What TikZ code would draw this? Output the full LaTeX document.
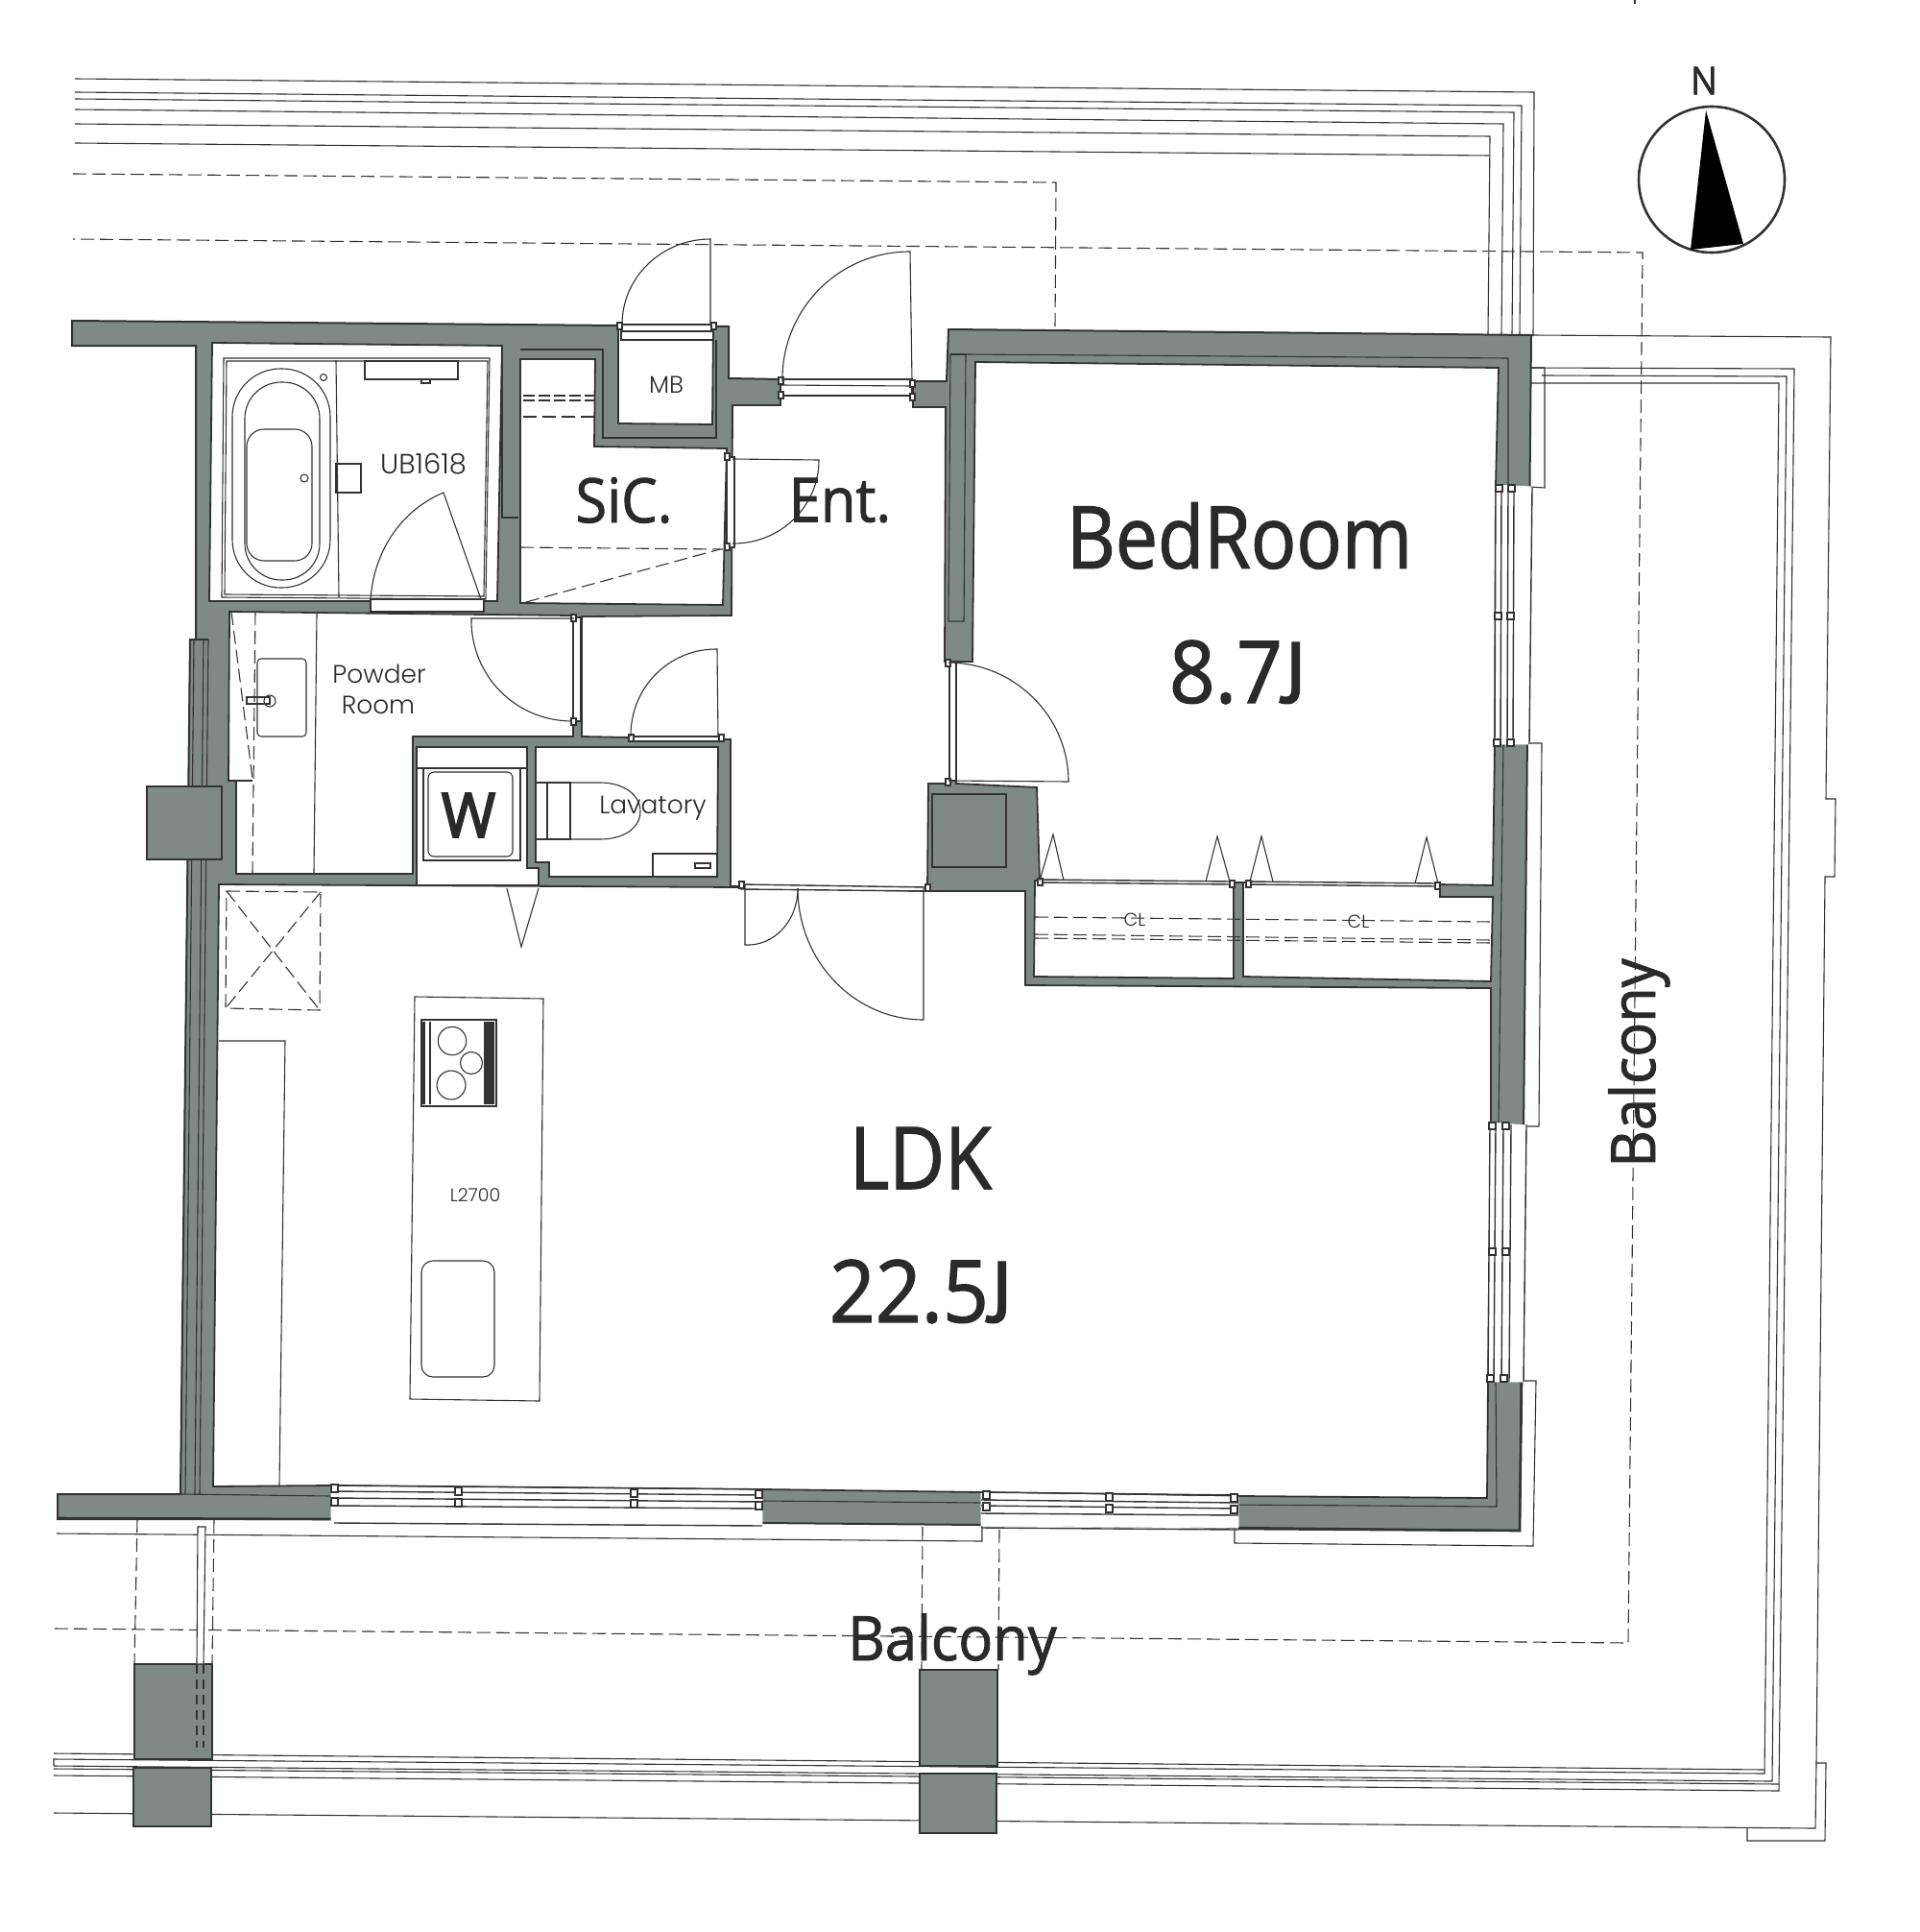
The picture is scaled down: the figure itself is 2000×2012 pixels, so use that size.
\documentclass[tikz,border=0pt]{standalone}
\usepackage{fontspec}
\setmainfont{Open Sans}
\newfontfamily\roomfont[FakeStretch=0.93,FakeBold=1.4]{Open Sans}
\newfontfamily\boldroomfont[FakeStretch=0.95,FakeBold=3]{Open Sans}
\newfontfamily\jayfont[FakeBold=1.4]{PT Sans}
\newfontfamily\planfont[UprightFont={* Light}]{Poppins}
\usetikzlibrary{calc}
\definecolor{wallgray}{HTML}{7F8A86}
\definecolor{linegray}{HTML}{333333}
\definecolor{inkgray}{HTML}{2A2A2A}
\tikzset{
  wall/.style={fill=wallgray,draw=linegray,line width=1pt,line join=miter},
  room/.style={fill=white,draw=linegray,line width=0.9pt},
  thinline/.style={draw=linegray,line width=0.55pt},
  dashline/.style={draw=linegray,line width=0.55pt,dash pattern=on 7pt off 3pt},
  shortdash/.style={draw=linegray,line width=0.55pt,dash pattern=on 6pt off 2pt},
  strip/.style={fill=white,draw=linegray,line width=0.7pt},
  bigtext/.style={text=inkgray,font=\roomfont\fontsize{45}{45}\selectfont},
  midtext/.style={text=inkgray,font=\roomfont\fontsize{32}{32}\selectfont},
  smalltext/.style={text=inkgray,font=\planfont\fontsize{13.2}{13.2}\selectfont},
  tinytext/.style={text=inkgray,font=\planfont\fontsize{9.5}{9.5}\selectfont},
}
\newcommand{\swing}[3]{\draw[thinline] (#1) -- (#2) .. controls ($(#2)+0.5523*(#3)-0.5523*(#1)$) and ($(#3)+0.5523*(#2)-0.5523*(#1)$) .. (#3);}
\begin{document}
\begin{tikzpicture}[x=0.5pt,y=-0.5pt]
        \useasboundingbox (0,0) rectangle (2000,2012);
        \fill[white] (0,0) rectangle (2000,2012);

        % parapet lines, north side
        \draw[thinline] (78,82) -- (1598,96) -- (1597,350);
        \draw[thinline] (78,96) -- (1585,110) -- (1583,348);
        \draw[thinline] (78,103) -- (1577,117) -- (1575,348);
        \draw[thinline] (78,114) -- (1566,129) -- (1564,348);
        \draw[thinline] (78,129) -- (1552,142) -- (1550,348);
        \draw[thinline] (78,149) -- (1552,162);
        \draw[dashline] (76,181) -- (1100,190) -- (1099,342);
        \draw[dashline] (57,1696) -- (1696,1711) -- (1711,263) -- (76,249);
        \draw[thinline] (1703,0) -- (1703,4);

        % balcony rails
        \draw[thinline] (1595,349) -- (1907,351) -- (1902,832) -- (1912,832) -- (1911,913) -- (1901,913) -- (1892,1836) -- (1902,1836) -- (1901,1917) -- (1820,1917) -- (1820,1903);
        \draw[thinline] (56,1888) -- (1891,1904) -- (1892,1836);
        \draw[thinline] (1595,383) -- (1869,384) -- (1853,1865) -- (56,1849);
        \draw[thinline] (56,1842) -- (1853,1858);
        \draw[thinline] (1606,391) -- (1861,392) -- (1846,1855) -- (56,1839);
        \draw[thinline] (1595,399) -- (1853,399) -- (1838,1847) -- (56,1832) -- (56,1839);
        \draw[thinline] (56,1826) -- (1838,1843);
        \draw[thinline] (59,1597) -- (1023,1605) -- (1023,1588);
        \draw[thinline] (1286,1591) -- (1286,1607) -- (1597,1610) -- (1600,1438) -- (1583,1438);
        \draw[thinline] (1590,774) -- (1606,774) -- (1603,1173) -- (1588,1173);
        \draw[thinline] (1595,383) -- (1609,383) -- (1609,508) -- (1593,507);

        % columns on the balcony
        \draw[wall] (140,1733) rectangle (221,1832);
        \draw[wall] (139,1841) rectangle (220,1902);
        \draw[wall] (958,1739) rectangle (1039,1839);
        \draw[wall] (958,1847) rectangle (1038,1909);
        \draw[dashline] (143,1582) -- (140,1733);
        \draw[dashline] (223,1583) -- (221,1733);
        \draw[dashline] (961,1590) -- (960,1739);
        \draw[dashline] (1041,1593) -- (1040,1739);
        \filldraw[fill=white,draw=linegray,line width=0.55pt] (206,1590) -- (214,1590) -- (212,1733) -- (205,1733) -- cycle;
        \draw[dashline,dash pattern=on 5pt off 3pt] (205,1733) -- (205,1820);
        \draw[dashline,dash pattern=on 5pt off 3pt] (212,1733) -- (212,1820);

        % the walls, rooms are cut out of it
        \filldraw[wall] (75,334) -- (759,340) -- (759,394) -- (813,395) -- (951,397) -- (986,397) -- (988,343) -- (1595,349) -- (1583,1594) -- (1022,1588) -- (794,1586) -- (345,1582) -- (60,1582) -- (60,1556) -- (188,1556) -- (198,666) -- (204,666) -- (204,360) -- (75,360) -- cycle;

        \filldraw[room] (221,357) -- (523,360) -- (518,626) -- (218,626) -- cycle;
        \filldraw[room] (542,374) -- (620,374) -- (619,465) -- (757,467) -- (753,630) -- (542,628) -- cycle;
        \filldraw[room] (644,342) -- (743,342) -- (742,442) -- (644,441) -- cycle;
        \filldraw[room] (239,637) -- (597,641) -- (597,767) -- (430,767) -- (430,910) -- (246,910) -- (246,813) -- (238,813) -- cycle;
        \filldraw[room] (434,778) -- (549,778) -- (549,904) -- (561,904) -- (561,922) -- (434,922) -- cycle;
        \filldraw[room] (558,778) -- (748,778) -- (747,913) -- (572,913) -- (572,898) -- (558,898) -- cycle;
        \filldraw[room] (763,422) -- (813,422) -- (813,395) -- (951,397) -- (951,424) -- (985,424) -- (984,689) -- (989,689) -- (989,816) -- (967,816) -- (966,928) -- (772,925) -- (772,923) -- (761,923) -- (761,770) -- (606,767) -- (606,642) -- (762,641) -- cycle;
        \filldraw[room] (1016,377) -- (1561,383) -- (1558,505) -- (1557,775) -- (1555,922) -- (1497,921) -- (1083,917) -- (1080,820) -- (996,816) -- (996,689) -- (1013,689) -- cycle;
        \filldraw[room] (1078,917) -- (1285,919) -- (1285,1019) -- (1077,1017) -- cycle;
        \filldraw[room] (1295,919) -- (1500,921) -- (1500,934) -- (1555,934) -- (1553,1022) -- (1295,1017) -- cycle;
        \filldraw[room] (228,921) -- (772,924) -- (966,928) -- (1068,928) -- (1068,1026) -- (1553,1029) -- (1553,1169) -- (1550,1439) -- (1549,1560) -- (1290,1558) -- (1022,1554) -- (794,1551) -- (345,1547) -- (222,1548) -- cycle;

        % lines inside the concrete
        \draw[thinline] (990,369) -- (988,647) -- (1004,647) -- (1006,369) -- (1571,373) -- (1571,505);
        \draw[thinline] (990,369) -- (1006,369);
        \draw[thinline] (1566,775) -- (1561,1169);
        \draw[thinline] (1558,1439) -- (1559,1569) -- (1287,1567);
        \draw[thinline] (198,666) -- (188,1556);
        \draw[thinline] (202,666) -- (193,1556);
        \draw[thinline] (212,666) -- (203,1556);
        \draw[thinline] (217,666) -- (208,1556);
        \draw[thinline] (204,666) -- (217,666);
        \draw[thinline] (188,1556) -- (345,1558);
        \draw[thinline] (794,1563) -- (1022,1565);
        \draw[thinline] (523,360) -- (523,539) -- (540,539);
        \draw[thinline] (542,364) -- (628,364) -- (628,456) -- (746,456) -- (746,354);
        \draw[thinline] (971,827) -- (1048,827) -- (1048,903) -- (971,903) -- cycle;
        \draw[linegray,line width=1.3pt] (60,1581) -- (345,1582);
        \draw[linegray,line width=1.3pt] (1290,1592) -- (1583,1594) -- (1585,1439);
        \filldraw[wall] (153,819) rectangle (231,895);

        % door strips
        \filldraw[strip] (647,338) rectangle (743,354);
        \draw[thinline] (647,345) -- (743,345);
        \filldraw[strip] (813,395) rectangle (950,412);
        \draw[thinline] (813,401) -- (950,402);
        \filldraw[strip] (757,476) rectangle (765,570);
        \filldraw[strip] (386,624) rectangle (504,637);
        \filldraw[strip] (597,643) rectangle (605,751);
        \filldraw[strip] (657,767) rectangle (751,772);
        \filldraw[strip] (989,689) rectangle (996,813);
        \filldraw[strip] (772,921) -- (966,924) -- (966,928) -- (772,926) -- cycle;
        \filldraw[strip] (1083,916) -- (1283,918) -- (1283,921) -- (1083,919) -- cycle;
        \filldraw[strip] (1300,918) -- (1497,920) -- (1497,923) -- (1300,921) -- cycle;
        % door jambs
        \foreach \xa/\ya in {643/336,741/336,811/393,811/408,948/396,948/410,755/472,755/566,595/640,595/748,655/765,749/765,985/687,985/811,770/918,964/921,1081/915,1281/917,1298/917,1495/919} {
            \filldraw[strip] (\xa,\ya) rectangle +(5,7);
        }

        % door swings
        \swing{740,338}{740,249}{648,338}
        \swing{950,397}{948,262}{815,397}
        \swing{763,478}{853,479}{763,566}
        \swing{598,644}{491,644}{596,751}
        \swing{748,768}{747,676}{657,767}
        \swing{988,813}{1113,814}{988,690}
        \swing{776,922}{776,984}{831,925}
        \swing{962,925}{962,1062}{831,925}
        \draw[thinline] (386,624) .. controls (390,570) and (421,530) .. (462,513) -- (501,624);
        \draw[thinline] (528,925) -- (543,986) -- (561,925);
        \draw[thinline] (1083,917) -- (1097,869) -- (1108,917);
        \draw[thinline] (1256,918) -- (1268,871) -- (1281,918);
        \draw[thinline] (1302,918) -- (1314,871) -- (1326,918);
        \draw[thinline] (1474,920) -- (1486,872) -- (1498,920);

        % windows, east side
        \filldraw[white] (1558,505) -- (1596,507) -- (1593,775) -- (1557,775) -- cycle;
        \filldraw[white] (1552,1169) -- (1590,1172) -- (1587,1439) -- (1550,1439) -- cycle;
        \foreach \xa/\xb in {1558/1557,1564/1563,1571/1570,1577/1576,1596/1593} {
            \draw[thinline,line width=0.7pt] (\xa,507) -- (\xb,775);
        }
        \foreach \xa/\xb in {1552/1550,1558/1556,1566/1564,1574/1572,1590/1587} {
            \draw[thinline,line width=0.7pt] (\xa,1171) -- (\xb,1439);
        }
        \foreach \xa/\ya in {1558/505,1571/505,1557/638,1570/638,1556/770,1570/770,1551/1169,1565/1169,1551/1300,1565/1300,1549/1432,1563/1432} {
            \filldraw[strip] (\xa,\ya) rectangle +(7,7);
        }
        % windows, south side
        \filldraw[white] (345,1548) -- (794,1552) -- (794,1588) -- (345,1586) -- cycle;
        \filldraw[white] (1022,1555) -- (1290,1559) -- (1290,1591) -- (1022,1589) -- cycle;
        \foreach \ya/\yb in {1547/1551,1553/1557,1560/1564,1568/1571,1586/1589} {
            \draw[thinline,line width=0.7pt] (348,\ya) -- (794,\yb);
        }
        \foreach \ya/\yb in {1554/1557,1562/1565,1568/1571,1576/1578,1591/1593} {
            \draw[thinline,line width=0.7pt] (1022,\ya) -- (1290,\yb);
        }
        \foreach \xa/\ya in {345/1546,345/1560,474/1549,474/1561,657/1551,657/1562,787/1552,787/1564,1024/1553,1024/1565,1152/1555,1152/1567,1282/1556,1282/1568} {
            \filldraw[strip] (\xa,\ya) rectangle +(7,8);
        }

        % bathroom
        \draw[thinline] (233,373) -- (510,373) -- (506,624) -- (231,622) -- cycle;
        \draw[thinline] (236,376) -- (508,376) -- (504,621) -- (234,619) -- cycle;
        \draw[thinline] (350,375) -- (353,622);
        \draw[thinline,rounded corners=25pt] (242,384) rectangle (344,612);
        \draw[thinline,rounded corners=19pt] (255,398) rectangle (333,604);
        \draw[thinline,rounded corners=9pt] (257,447) rectangle (325,584);
        \draw[thinline] (337,393) circle (3.5);
        \draw[thinline] (317,498) circle (4);
        \draw[thinline] (350,483) rectangle (376,513);
        \draw[thinline] (380,376) rectangle (477,395);
        \draw[thinline] (439,395) rectangle (448,399);

        % closet dashes
        \draw[shortdash] (545,412) -- (619,412);
        \draw[shortdash] (545,417) -- (619,417);
        \draw[dashline] (545,434) -- (619,434);
        \draw[dashline] (542,570) -- (753,572);
        \draw[dashline] (548,627) -- (750,572);
        \draw[dashline] (1078,955) -- (1555,960);
        \draw[dashline] (1078,973) -- (1555,979);
        \draw[dashline] (1078,977) -- (1555,982);

        % powder room
        \draw[thinline] (330,639) -- (327,909);
        \draw[dashline] (266,637) -- (263,910);
        \draw[dashline] (241,637) -- (263,811);
        \draw[thinline] (246,813) -- (263,813);
        \draw[thinline,rounded corners=2pt] (268,686) rectangle (319,767);
        \draw[thinline] (257,726) rectangle (281,733);
        \draw[thinline] (281,730) circle (6);

        % washer and lavatory
        \draw[thinline] (434,800) -- (549,800);
        \draw[thinline] (441,800) rectangle (542,896);
        \draw[thinline,rounded corners=3pt] (446,804) rectangle (534,892);
        \draw[thinline] (558,815) rectangle (594,874);
        \draw[thinline] (570,815) -- (570,874);
        \draw[thinline] (590,815) -- (625,815) .. controls (650,815) and (667,828) .. (667,845) .. controls (667,862) and (650,874) .. (625,874) -- (590,874);
        \draw[thinline] (680,889) rectangle (747,913);
        \draw[thinline] (724,899) rectangle (740,904);

        % kitchen
        \draw[dashline] (236,928) -- (334,929) -- (333,1052) -- (235,1050) -- cycle;
        \draw[dashline] (236,928) -- (333,1052);
        \draw[dashline] (334,929) -- (235,1050);
        \draw[thinline] (228,1084) -- (297,1084) -- (291,1547);
        \draw[thinline] (432,1038) -- (566,1040) -- (562,1459) -- (427,1457) -- cycle;
        \draw[thinline,line width=0.8pt] (439,1062) rectangle (517,1152);
        \fill[linegray] (504,1064) rectangle (515,1150);
        \fill[linegray] (439,1064) rectangle (443,1150);
        \draw[thinline] (448,1064) -- (448,1150);
        \draw[thinline] (471,1084) circle (14.7);
        \draw[thinline] (491,1107) circle (11.5);
        \draw[thinline] (470,1130) circle (15);
        \draw[thinline,rounded corners=6pt] (439,1313) rectangle (515,1434);

        % north mark
        \draw[draw=linegray,line width=1.3pt] (1783,187) circle (76);
        \fill[black] (1777,115) -- (1761,260) -- (1816,254) -- cycle;

        \node[smalltext,font=\roomfont\fontsize{20}{20}\selectfont] at (1775,84) (north) {N};
        \node[smalltext,font=\planfont\fontsize{14.5}{14.5}\selectfont] at (441,483) (ub) {UB1618};
        \node[smalltext,font=\planfont\fontsize{12.5}{12.5}\selectfont] at (694,401) (mb) {MB};
        \node[midtext] at (650,521) (sic) {SiC.};
        \node[midtext] at (875,521) (ent) {Ent.};
        \node[smalltext] at (395,702) (powder) {Powder};
        \node[smalltext] at (394,734) (powderroom) {Room};
        \node[smalltext] at (680,842) (lavatory) {Lavatory};
        \node[midtext,font=\boldroomfont\fontsize{32}{32}\selectfont] at (488,849) (washer) {W};
        \node[tinytext] at (1182,958) (cla) {CL};
        \node[tinytext] at (1415,960) (clb) {CL};
        \node[tinytext] at (495,1245) (island) {L2700};
        \node[bigtext,xscale=0.94] at (1291,558) (bedroom) {BedRoom};
        \node[bigtext] at (1290,700) (bedsize) {8.7{\jayfont J}};
        \node[bigtext,xscale=0.95] at (959,1206) (ldk) {LDK};
        \node[bigtext] at (960,1345) (ldksize) {22.5{\jayfont J}};
        \node[midtext,anchor=base] at (992,1729) (balconys) {Balcony};
        \node[midtext,anchor=base,rotate=90] at (1724,1107) (balconye) {Balcony};
    \end{tikzpicture}
\end{document}
